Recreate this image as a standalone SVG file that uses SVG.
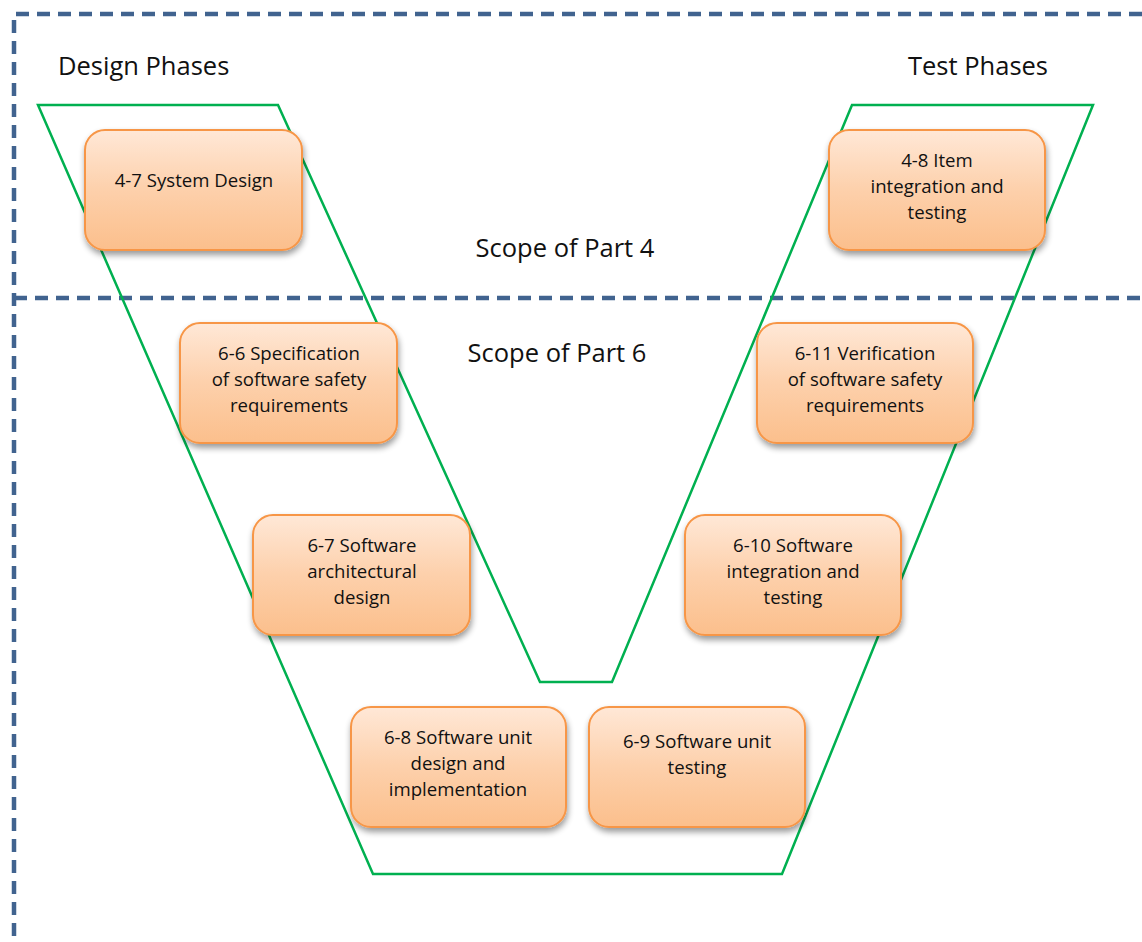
<svg xmlns="http://www.w3.org/2000/svg" width="1142" height="942" viewBox="0 0 1142 942">
<defs>
<linearGradient id="g" x1="0" y1="0" x2="0" y2="1">
<stop offset="0" stop-color="#FFE8D7"/>
<stop offset="0.5" stop-color="#FDD0AB"/>
<stop offset="1" stop-color="#FBBF8C"/>
</linearGradient>
<filter id="sh" x="-10%" y="-10%" width="125%" height="135%">
<feGaussianBlur in="SourceAlpha" stdDeviation="3"/>
<feOffset dx="1" dy="4" result="b"/>
<feComponentTransfer><feFuncA type="linear" slope="0.4"/></feComponentTransfer>
<feMerge><feMergeNode/><feMergeNode in="SourceGraphic"/></feMerge>
</filter>
</defs>
<style>
.b{fill:url(#g);stroke:#F79646;stroke-width:2;filter:url(#sh)}
.t{font-family:"Open Sans","Liberation Sans",sans-serif;font-size:18.6px;fill:#111;text-anchor:middle}
.h{font-family:"Open Sans","Liberation Sans",sans-serif;font-size:25.5px;fill:#111}
.d{fill:none;stroke:#41638F;stroke-width:4.5;stroke-dasharray:13 8}
</style>
<rect width="1142" height="942" fill="#fff"/>
<g id="border">
<path class="d" d="M1142 14 H14 V942"/>
<path class="d" d="M14 298 H1142"/>
</g>
<g id="vshape">
<polygon points="38,105 278,105 540,682 612,682 852,105 1093,105 782,874 373,874" fill="none" stroke="#00B050" stroke-width="2.5"/>
</g>
<g id="labels">
<text class="h" x="58" y="75">Design Phases</text>
<text class="h" x="908" y="75">Test Phases</text>
<text class="h" x="565" y="257" text-anchor="middle">Scope of Part 4</text>
<text class="h" x="557" y="362" text-anchor="middle">Scope of Part 6</text>
</g>
<g id="n47"><rect class="b" x="85" y="130" width="217" height="120" rx="20"/><text class="t" x="194" y="187">4-7 System Design</text></g>
<g id="n48"><rect class="b" x="829" y="130" width="216" height="120" rx="20"/><text class="t" x="937" y="167">4-8 Item</text><text class="t" x="937" y="193">integration and</text><text class="t" x="937" y="219">testing</text></g>
<g id="n66"><rect class="b" x="180" y="323" width="217" height="120" rx="20"/><text class="t" x="289" y="360">6-6 Specification</text><text class="t" x="289" y="386">of software safety</text><text class="t" x="289" y="412">requirements</text></g>
<g id="n611"><rect class="b" x="757" y="323" width="216" height="120" rx="20"/><text class="t" x="865" y="360">6-11 Verification</text><text class="t" x="865" y="386">of software safety</text><text class="t" x="865" y="412">requirements</text></g>
<g id="n67"><rect class="b" x="253" y="515" width="217" height="120" rx="20"/><text class="t" x="362" y="552">6-7 Software</text><text class="t" x="362" y="578">architectural</text><text class="t" x="362" y="604">design</text></g>
<g id="n610"><rect class="b" x="685" y="515" width="216" height="120" rx="20"/><text class="t" x="793" y="552">6-10 Software</text><text class="t" x="793" y="578">integration and</text><text class="t" x="793" y="604">testing</text></g>
<g id="n68"><rect class="b" x="351" y="707" width="215" height="120" rx="20"/><text class="t" x="458" y="744">6-8 Software unit</text><text class="t" x="458" y="770">design and</text><text class="t" x="458" y="796">implementation</text></g>
<g id="n69"><rect class="b" x="589" y="707" width="216" height="120" rx="20"/><text class="t" x="697" y="748">6-9 Software unit</text><text class="t" x="697" y="774">testing</text></g>
</svg>
